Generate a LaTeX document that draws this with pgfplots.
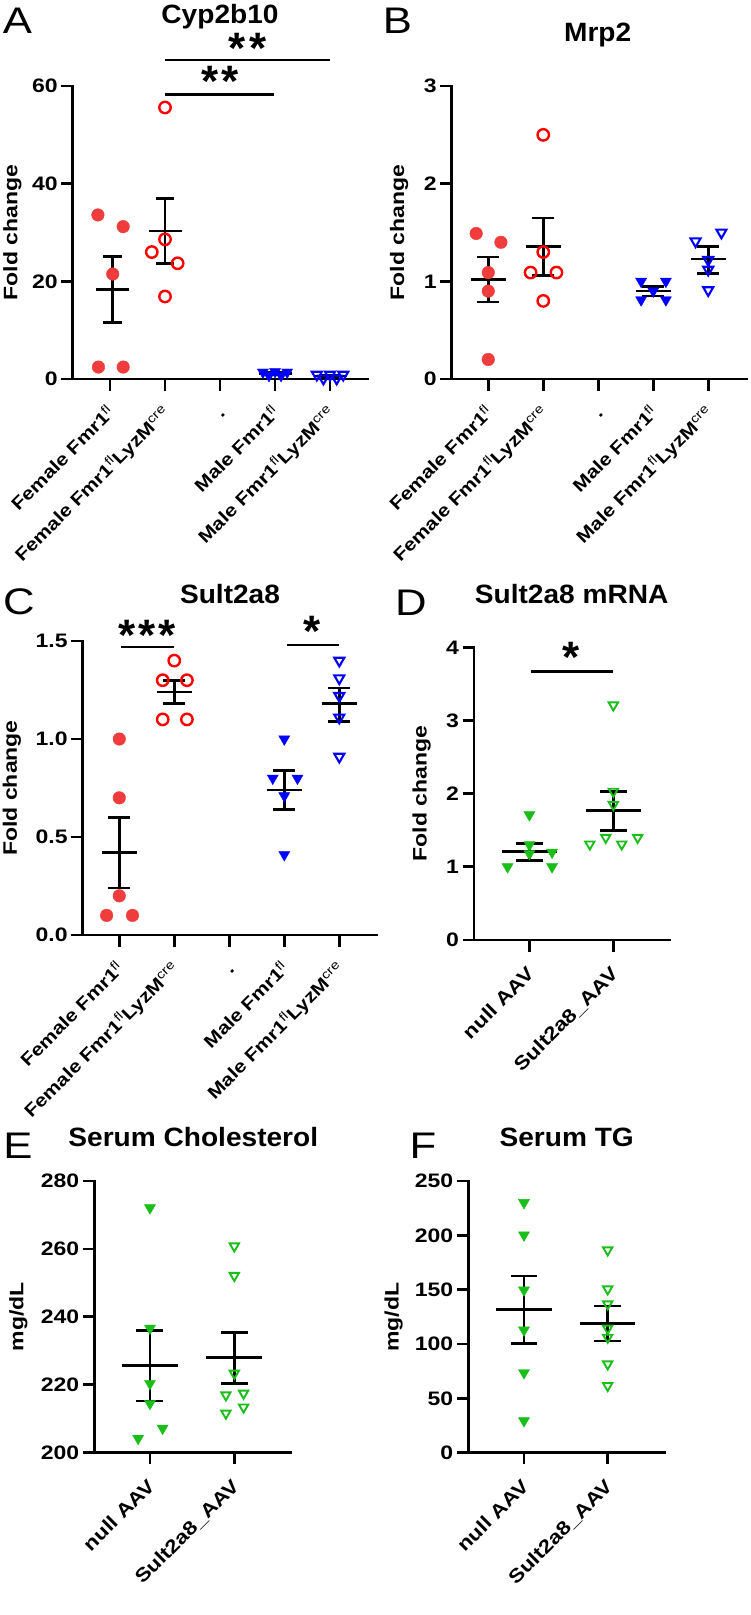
\documentclass[border=0pt]{standalone}
\usepackage{fontspec}
\setmainfont{Liberation Sans}
\newfontfamily\wf[FakeStretch=1.18]{Liberation Sans}
\newfontfamily\tf[FakeStretch=1.06]{Liberation Sans}
\usepackage{pgfplots}
\pgfplotsset{compat=1.18}

\definecolor{redfill}{RGB}{240,60,60}
\definecolor{redopen}{RGB}{255,0,0}
\definecolor{bluep}{RGB}{0,0,255}
\definecolor{greenp}{RGB}{25,190,25}

\newcommand\tickfont{\wf\fontsize{19.5}{23}\selectfont\bfseries}
\newcommand\xlabfont{\wf\fontsize{17.8}{22}\selectfont\bfseries}
\newcommand\xlabfontb{\wf\fontsize{19}{23}\selectfont\bfseries}
\newcommand\titfont{\tf\fontsize{26.5}{32}\selectfont\bfseries}
\newcommand\labfont{\wf\fontsize{19.5}{24}\selectfont\bfseries}
\newcommand\letfont{\wf\fontsize{37}{44}\selectfont}
\newcommand\starfont{\fontsize{44}{50}\selectfont\bfseries}
\newcommand\supx[1]{\textsuperscript{\mdseries #1}}

\pgfplotsset{
  panel/.style={scale only axis, anchor=south west, clip=false,
    axis x line*=bottom, axis y line*=left,
    axis line style={line width=2.7pt, line cap=rect},
    every outer x axis line/.append style={line width=2.7pt, line cap=rect},
    every outer y axis line/.append style={line width=2.7pt, line cap=rect},
    major tick length=11.5pt, tick align=outside,
    tick style={black, line width=2.7pt},
    major tick style={black, line width=2.7pt},
    tick label style={font=\tickfont},
    /pgf/number format/assume math mode=true,
    xticklabels={},
    ymin=0},
  semline/.style={black, line width=2.7pt, mark=none, unbounded coords=jump, forget plot},
  sigline/.style={black, line width=2.7pt, mark=none, forget plot},
  rfill/.style={only marks, mark=*, mark size=6.3pt, color=redfill},
  ropen/.style={only marks, mark=o, mark size=5.7pt, color=redopen, mark options={line width=2.4pt}},
  bfill/.style={only marks, mark=triangle*, mark size=6.4pt, color=bluep, mark options={rotate=180}},
  bopen/.style={only marks, mark=triangle, mark size=5.8pt, color=bluep, mark options={rotate=180, line width=2.1pt}},
  gfill/.style={only marks, mark=triangle*, mark size=6.4pt, color=greenp, mark options={rotate=180}},
  gopen/.style={only marks, mark=triangle, mark size=5.4pt, color=greenp, mark options={rotate=180, line width=1.9pt}},
}

% x tick label: font, x, ymin, text  (baseline end 6pt right, 35.5pt below axis line)
\newcommand\xl[4]{\node[font=#1, rotate=45, anchor=base east, inner sep=0pt] at ([xshift=6pt,yshift=-35pt]axis cs:#2,#3) {#4};}
\newcommand\sixlabels{%
  \xl{\xlabfont}{0}{0}{Female Fmr1\supx{fl}}
  \xl{\xlabfont}{1}{0}{Female Fmr1\supx{fl}LyzM\supx{cre}}
  \xl{\xlabfont}{2}{0}{.}
  \xl{\xlabfont}{3}{0}{Male Fmr1\supx{fl}}
  \xl{\xlabfont}{4}{0}{Male Fmr1\supx{fl}LyzM\supx{cre}}}
\newcommand\twolabels[1]{%
  \xl{\xlabfontb}{0}{#1}{null AAV}
  \xl{\xlabfontb}{1}{#1}{Sult2a8\_AAV}}

\def\mhw{0.32}
\newcommand{\msem}[5]{%
  \pgfmathsetmacro\xa{#1-\mhw}\pgfmathsetmacro\xb{#1+\mhw}%
  \pgfmathsetmacro\xc{#1-#5}\pgfmathsetmacro\xd{#1+#5}%
  \addplot[semline] coordinates {(\xa,#2) (\xb,#2) (nan,nan) (#1,#3) (#1,#4) (nan,nan) (\xc,#3) (\xd,#3) (nan,nan) (\xc,#4) (\xd,#4)};
}

\begin{document}
\begin{tikzpicture}[x=1pt,y=1pt]
\path[use as bounding box] (0,0) rectangle (750,-1615);

% ---------------- A
\begin{axis}[panel, at={(72.7pt,-379pt)}, width=295.3pt, height=293pt,
  xtick={0,1,2,3,4}, xmin=-0.678, xmax=4.69, ymax=60, ytick={0,20,40,60}]
\addplot[rfill] coordinates {(-0.22,33.6) (0.24,31.2) (0.05,21.5) (-0.21,2.45) (0.24,2.45)};
\addplot[ropen] coordinates {(1,55.6) (0.76,26.0) (1,28.6) (1.23,23.7) (1,16.9)};
\addplot[bfill] coordinates {(2.78,1.4) (3,1.5) (3.22,1.4) (2.89,0.7) (3.11,0.7)};
\addplot[bopen] coordinates {(3.76,0.9) (4,0.9) (4.24,0.9) (3.88,0.1) (4.12,0.1)};
\def\mhw{0.3}
\msem{0.05}{18.3}{11.6}{25.1}{0.17}
\msem{1}{30.3}{23.6}{36.9}{0.17}
\msem{3}{1.1}{0.8}{1.4}{0.17}
\msem{4}{0.6}{0.3}{0.85}{0.17}
\addplot[sigline] coordinates {(1,65.3) (4,65.3)};
\addplot[sigline] coordinates {(1,58.2) (2.98,58.2)};
\node[font=\starfont, anchor=base, yshift=-25pt] at (axis cs:2.5,69.8) {*\kern3pt*};
\node[font=\starfont, anchor=base, yshift=-25pt] at (axis cs:2.0,62.9) {*\kern3pt*};
\sixlabels
\end{axis}

% ---------------- B
\begin{axis}[panel, at={(451.7pt,-379pt)}, width=295pt, height=293pt,
  xtick={0,1,2,3,4}, xmin=-0.665, xmax=4.70, ymax=3, ytick={0,1,2,3}]
\addplot[rfill] coordinates {(-0.22,1.49) (0.23,1.40) (0,1.09) (0,0.90) (0,0.20)};
\addplot[ropen] coordinates {(1,2.50) (1,1.30) (0.77,1.09) (1.24,1.09) (1,0.80)};
\addplot[bfill] coordinates {(2.78,1.0) (3.23,1.0) (3,0.90) (2.78,0.81) (3.23,0.81)};
\addplot[bopen] coordinates {(3.77,1.41) (4.24,1.50) (4,1.22) (4,1.12) (4,0.91)};
\def\mhw{0.32}
\msem{0}{1.02}{0.79}{1.25}{0.2}
\msem{1}{1.36}{1.06}{1.65}{0.2}
\msem{3}{0.90}{0.85}{0.95}{0.2}
\msem{4}{1.23}{1.08}{1.36}{0.2}
\sixlabels
\end{axis}

% ---------------- C
\begin{axis}[panel, at={(82.7pt,-935pt)}, width=294pt, height=294pt,
  xtick={0,1,2,3,4}, xmin=-0.665, xmax=4.68, ymax=1.5, ytick={0,0.5,1,1.5}, yticklabels={0.0,0.5,1.0,1.5}]
\addplot[rfill] coordinates {(0,1.0) (0,0.70) (0,0.20) (-0.23,0.10) (0.24,0.10)};
\addplot[ropen] coordinates {(1,1.40) (0.79,1.30) (1.23,1.30) (0.79,1.10) (1.23,1.10)};
\addplot[bfill] coordinates {(3,1.0) (2.79,0.80) (3.24,0.80) (3,0.71) (3,0.41)};
\addplot[bopen] coordinates {(4,1.40) (4,1.31) (4,1.22) (4,1.11) (4,0.91)};
\def\mhw{0.32}
\msem{0}{0.42}{0.24}{0.60}{0.2}
\msem{1}{1.24}{1.18}{1.30}{0.2}
\msem{3}{0.74}{0.64}{0.84}{0.2}
\msem{4}{1.18}{1.09}{1.26}{0.2}
\addplot[sigline] coordinates {(0.03,1.47) (1,1.47)};
\addplot[sigline] coordinates {(3.05,1.48) (4,1.48)};
\node[font=\starfont, anchor=base, yshift=-25pt] at (axis cs:0.5,1.58) {*\kern3pt*\kern3pt*};
\node[font=\starfont, anchor=base, yshift=-25pt] at (axis cs:3.5,1.60) {*};
\sixlabels
\end{axis}

% ---------------- D
\begin{axis}[panel, at={(474pt,-940pt)}, width=196pt, height=292.7pt,
  xtick={0,1}, xmin=-0.66, xmax=1.675, ymax=4, ytick={0,1,2,3,4}]
\addplot[gfill] coordinates {(0,1.71) (-0.26,1.00) (0.27,1.00) (0,1.30) (0,1.18) (0.27,1.20)};
\addplot[gopen] coordinates {(1,3.21) (1,2.03) (1,1.85) (0.72,1.31) (0.91,1.40) (1.10,1.31) (1.29,1.40)};
\def\mhw{0.33}
\msem{0}{1.21}{1.09}{1.32}{0.16}
\msem{1}{1.77}{1.50}{2.03}{0.16}
\addplot[sigline] coordinates {(0.02,3.67) (1,3.67)};
\node[font=\starfont, anchor=base, yshift=-25pt] at (axis cs:0.5,4.0) {*};
\twolabels{0}
\end{axis}

% ---------------- E
\begin{axis}[panel, at={(94.3pt,-1452.3pt)}, width=196.7pt, height=271.3pt,
  xtick={0,1}, xmin=-0.66, xmax=1.672, ymin=200, ymax=280, ytick={200,220,240,260,280}]
\addplot[gfill] coordinates {(0,272.1) (0,236.6) (0,220.3) (0,214.4) (0.15,207.1) (-0.14,204.1)};
\addplot[gopen] coordinates {(1,260.8) (1,252.1) (1,223.3) (0.9,216.9) (1.11,217.4) (1.11,213.3) (0.9,211.5)};
\def\mhw{0.33}
\msem{0}{225.5}{215.1}{236.0}{0.16}
\msem{1}{227.9}{220.3}{235.3}{0.16}
\twolabels{200}
\end{axis}

% ---------------- F
\begin{axis}[panel, at={(468.3pt,-1452.7pt)}, width=196pt, height=271.7pt,
  xtick={0,1}, xmin=-0.665, xmax=1.676, ymax=250, ytick={0,50,100,150,200,250}]
\addplot[gfill] coordinates {(0,230.1) (0,200.3) (0,149.7) (0,112.9) (0,73.6) (0,29.4)};
\addplot[gopen] coordinates {(1,186.5) (1,150.6) (1,136.8) (1,114.4) (1,106.1) (1,81.6) (1,61.7)};
\def\mhw{0.33}
\msem{0}{131.9}{100.6}{162.6}{0.16}
\msem{1}{119.0}{102.8}{135.0}{0.16}
\twolabels{0}
\end{axis}

% titles
\node[font=\titfont, anchor=base] at (220,-23.3) {Cyp2b10};
\node[font=\titfont, anchor=base] at (597.7,-41.7) {Mrp2};
\node[font=\titfont, anchor=base] at (230,-603.3) {Sult2a8};
\node[font=\titfont, anchor=base] at (571.7,-603.3) {Sult2a8 mRNA};
\node[font=\titfont, anchor=base] at (193.3,-1146) {Serum Cholesterol};
\node[font=\titfont, anchor=base] at (566.7,-1146.7) {Serum TG};
% panel letters
\node[font=\letfont, anchor=base] at (17.5,-33.3) {A};
\node[font=\letfont, anchor=base] at (397.5,-33.3) {B};
\node[font=\letfont, anchor=base] at (19,-614) {C};
\node[font=\letfont, anchor=base] at (411,-615) {D};
\node[font=\letfont, anchor=base] at (18,-1158.3) {E};
\node[font=\letfont, anchor=base] at (423,-1158.3) {F};
% y labels
\node[font=\labfont, rotate=90] at (12.5,-232.5) {Fold change};
\node[font=\labfont, rotate=90] at (399,-232.5) {Fold change};
\node[font=\labfont, rotate=90] at (12,-788) {Fold change};
\node[font=\labfont, rotate=90] at (421.7,-793.7) {Fold change};
\node[font=\labfont, rotate=90] at (18.5,-1316.7) {mg/dL};
\node[font=\labfont, rotate=90] at (393.5,-1317) {mg/dL};
\end{tikzpicture}
\end{document}
